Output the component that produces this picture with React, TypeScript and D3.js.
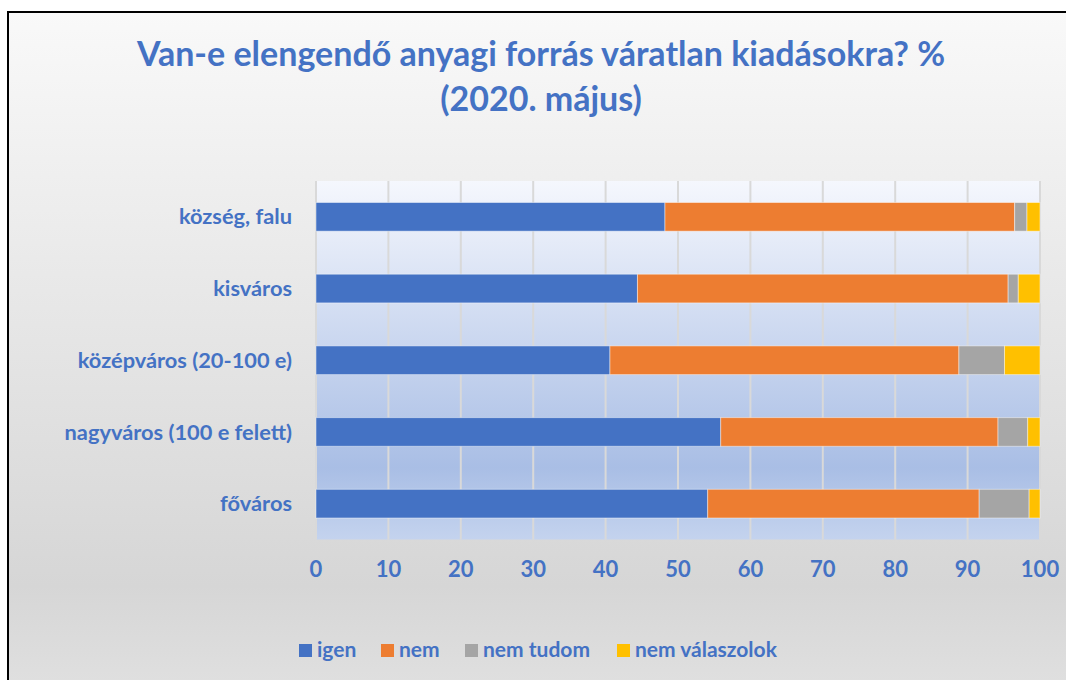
import React from "react";
import * as d3 from "d3";

const categories = [
  "község, falu",
  "kisváros",
  "középváros (20-100 e)",
  "nagyváros (100 e felett)",
  "főváros",
];
const seriesNames = ["igen", "nem", "nem tudom", "nem válaszolok"];
const igen = [48.2, 44.4, 40.6, 55.9, 54.1];
const nem = [48.3, 51.2, 48.2, 38.3, 37.5];
const nemTudom = [1.7, 1.4, 6.3, 4.1, 6.9];
const nemValaszolok = [1.8, 3.0, 4.9, 1.7, 1.5];
const xTicks = [0, 10, 20, 30, 40, 50, 60, 70, 80, 90, 100];
const colors = ["#4472C4", "#ED7D31", "#A5A5A5", "#FFC000"];

const W = 1066;
const H = 680;
const BLUE = "#4472C4";
const FONT = "Lato, 'Open Sans', sans-serif";

export default function App() {
  const x = d3.scaleLinear().domain([0, 100]).range([316, 1040]);
  const y = d3
    .scaleBand<string>()
    .domain(categories)
    .range([181, 539.5])
    .paddingInner(0.6)
    .paddingOuter(0.3);

  const rows = categories.map((c, i) => ({
    cat: c,
    igen: igen[i],
    nem: nem[i],
    "nem tudom": nemTudom[i],
    "nem válaszolok": nemValaszolok[i],
  }));
  const stacked = d3.stack<any>().keys(seriesNames)(rows);

  const legendX = [299, 381, 465, 617];

  return (
    <div style={{ position: "absolute", left: 0, top: 0 }}>
      <svg width={W} height={H} style={{ display: "block" }}>
        <defs>
          <linearGradient id="bg" x1="0" y1="0" x2="0" y2="1">
            <stop offset="0" stopColor="#f9f9f9" />
            <stop offset="0.82" stopColor="#d6d6d6" />
            <stop offset="1" stopColor="#e2e2e2" />
          </linearGradient>
          <linearGradient id="plotbg" x1="0" y1="0" x2="0" y2="1">
            <stop offset="0" stopColor="#f5f7fd" />
            <stop offset="0.8" stopColor="#a9bee5" />
            <stop offset="1" stopColor="#c4d3ee" />
          </linearGradient>
        </defs>
        <rect x={0} y={0} width={W} height={H} fill="#ffffff" />
        <rect
          x={8}
          y={12}
          width={W + 20}
          height={H + 20}
          fill="url(#bg)"
          stroke="#000"
          strokeWidth={2}
        />
        <text
          x={541}
          y={66}
          textAnchor="middle"
          fontFamily={FONT}
          fontWeight="bold"
          fontSize={34}
          fill={BLUE}
        >
          Van-e elengendő anyagi forrás váratlan kiadásokra? %
        </text>
        <text
          x={541}
          y={111}
          textAnchor="middle"
          fontFamily={FONT}
          fontWeight="bold"
          fontSize={34}
          fill={BLUE}
        >
          (2020. május)
        </text>

        <rect
          x={x(0)}
          y={181}
          width={x(100) - x(0)}
          height={539.5 - 181}
          fill="url(#plotbg)"
        />
        {xTicks.map((t) => (
          <line
            key={t}
            x1={x(t)}
            x2={x(t)}
            y1={181}
            y2={539.5}
            stroke="#d9d9d9"
            strokeWidth={2}
          />
        ))}

        {stacked.map((s, si) => (
          <g key={s.key} fill={colors[si]}>
            {s.map((d, i) => (
              <rect
                key={i}
                x={x(d[0])}
                y={y(categories[i])}
                width={x(d[1]) - x(d[0])}
                height={y.bandwidth()}
                stroke="#ffffff"
                strokeOpacity={0.45}
                strokeWidth={1}
              />
            ))}
          </g>
        ))}

        {categories.map((c) => (
          <text
            key={c}
            x={292}
            y={(y(c) as number) + y.bandwidth() / 2}
            dy="0.35em"
            textAnchor="end"
            fontFamily={FONT}
            fontWeight="bold"
            fontSize={21.8}
            fill={BLUE}
          >
            {c}
          </text>
        ))}

        {xTicks.map((t) => (
          <text
            key={t}
            x={x(t)}
            y={577}
            textAnchor="middle"
            fontFamily={FONT}
            fontWeight="bold"
            fontSize={22}
            fill={BLUE}
          >
            {t}
          </text>
        ))}

        {seriesNames.map((n, i) => (
          <g key={n} transform={`translate(${legendX[i]},644)`}>
            <rect width={13} height={13} fill={colors[i]} />
            <text
              x={18}
              y={13}
              fontFamily={FONT}
              fontWeight="bold"
              fontSize={21}
              fill={BLUE}
            >
              {n}
            </text>
          </g>
        ))}
      </svg>
    </div>
  );
}
